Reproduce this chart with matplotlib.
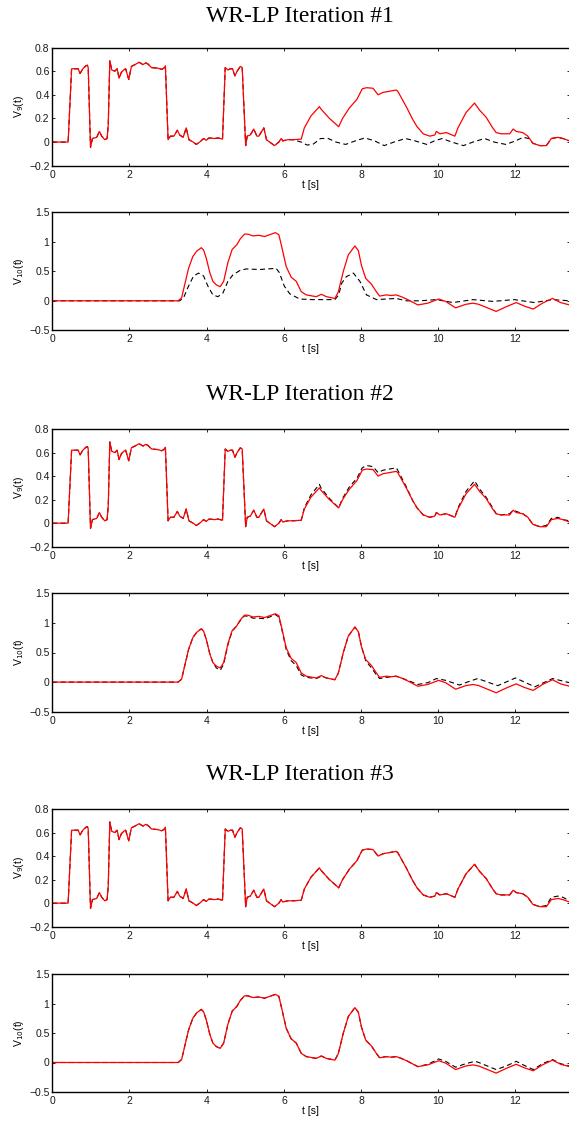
import matplotlib
matplotlib.use("Agg")
import matplotlib.pyplot as plt
from matplotlib.ticker import FuncFormatter

# --- V9(t): true response (red) ---
v9_t = [0, 0.41, 0.50, 0.58, 0.67, 0.72, 0.79, 0.87, 0.91, 0.93, 0.99, 1.04, 1.15, 1.22,
        1.28, 1.36, 1.42, 1.45, 1.49, 1.54, 1.62, 1.68, 1.73, 1.79, 1.85, 1.90, 1.98, 2.05,
        2.14, 2.25, 2.35, 2.42, 2.48, 2.57, 2.74, 2.83, 2.89, 2.93, 3.00, 3.06, 3.15, 3.24,
        3.30, 3.39, 3.47, 3.54, 3.65, 3.73, 3.82, 3.92, 3.99, 4.06, 4.21, 4.29, 4.41, 4.48,
        4.55, 4.61, 4.67, 4.73, 4.79, 4.87, 4.92, 5.01, 5.05, 5.13, 5.22, 5.30, 5.35, 5.48,
        5.55, 5.63, 5.76, 5.87, 5.93, 5.97, 6.10, 6.23, 6.45, 6.53, 6.70, 6.92, 6.96, 7.18,
        7.42, 7.52, 7.70, 7.89, 8.03, 8.14, 8.31, 8.44, 8.57, 8.74, 8.91, 8.95, 9.17, 9.34,
        9.45, 9.61, 9.78, 9.91, 9.95, 10.04, 10.21, 10.43, 10.51, 10.72, 10.94, 11.07, 11.24,
        11.41, 11.50, 11.63, 11.85, 11.94, 12.02, 12.19, 12.32, 12.45, 12.63, 12.80, 12.93,
        13.10, 13.23, 13.40]
v9_true = [0, 0, 0.62, 0.62, 0.62, 0.58, 0.62, 0.645, 0.65, 0.63, -0.045, 0.03, 0.04, 0.09,
           0.05, 0.02, 0.03, 0.15, 0.69, 0.61, 0.60, 0.62, 0.54, 0.59, 0.61, 0.62, 0.53, 0.64,
           0.655, 0.675, 0.655, 0.67, 0.66, 0.63, 0.625, 0.615, 0.625, 0.645, 0.02, 0.05, 0.05, 0.10,
           0.06, 0.04, 0.12, 0.02, 0.0, -0.02, 0.0, 0.03, 0.015, 0.035, 0.03, 0.035, 0.025, 0.63,
           0.61, 0.62, 0.62, 0.56, 0.60, 0.64, 0.63, -0.03, 0.05, 0.06, 0.11, 0.05, 0.05, 0.12,
           0.02, 0.0, -0.03, 0.0, 0.03, 0.01, 0.02, 0.02, 0.025, 0.12, 0.22, 0.30, 0.28, 0.20,
           0.13, 0.20, 0.29, 0.36, 0.45, 0.46, 0.455, 0.40, 0.42, 0.43, 0.44, 0.43, 0.30, 0.19,
           0.13, 0.07, 0.05, 0.06, 0.09, 0.07, 0.08, 0.05, 0.12, 0.25, 0.33, 0.27, 0.21,
           0.12, 0.08, 0.07, 0.07, 0.11, 0.09, 0.08, 0.05, -0.01, -0.03, -0.03, 0.03,
           0.04, 0.03, 0.01]

# --- V9 iterates (black dashed), only the part where they leave the red curve ---
v9_it1_t = [6.45, 6.60, 6.75, 6.95, 7.15, 7.35, 7.60, 7.85, 8.10, 8.35, 8.60, 8.85, 9.15,
            9.40, 9.70, 9.90, 10.10, 10.35, 10.65, 10.90, 11.20, 11.45, 11.75, 12.00, 12.20,
            12.35, 12.45, 12.63, 12.80, 12.93, 13.10, 13.23, 13.40]
v9_it1 = [0.0, -0.025, -0.02, 0.03, 0.03, 0.0, -0.02, 0.01, 0.035, 0.01, -0.03, 0.0, 0.03,
          0.01, -0.02, 0.01, 0.03, 0.0, -0.03, 0.0, 0.03, 0.0, -0.02, 0.01, 0.04,
          0.03, -0.01, -0.03, -0.03, 0.03, 0.04, 0.03, 0.01]

v9_it2_t = [6.45, 6.53, 6.70, 6.92, 6.96, 7.18, 7.42, 7.52, 7.70, 7.89, 8.03, 8.14, 8.31,
            8.44, 8.57, 8.74, 8.91, 8.95, 9.17, 9.34, 9.45, 9.61, 9.78, 9.91, 9.95, 10.04,
            10.21, 10.43, 10.51, 10.72, 10.94, 11.07, 11.24, 11.41, 11.50, 11.63, 11.85, 11.94,
            12.02, 12.19, 12.32, 12.45, 12.63, 12.80, 12.93, 13.10, 13.23, 13.40]
v9_it2 = [0.025, 0.13, 0.24, 0.33, 0.30, 0.21, 0.13, 0.21, 0.31, 0.38, 0.47, 0.49, 0.48,
          0.43, 0.45, 0.46, 0.47, 0.45, 0.31, 0.19, 0.13, 0.07, 0.05, 0.06, 0.09, 0.07,
          0.08, 0.05, 0.13, 0.27, 0.36, 0.29, 0.22, 0.13, 0.08, 0.07, 0.08, 0.11,
          0.10, 0.08, 0.05, -0.01, -0.03, -0.02, 0.04, 0.05, 0.03, 0.02]

v9_it3_t = [12.63, 12.80, 12.93, 13.10, 13.23, 13.40]
v9_it3 = [-0.03, -0.02, 0.05, 0.06, 0.05, 0.02]

# --- V10(t): true response (red) ---
v10_t = [0, 3.26, 3.35, 3.44, 3.53, 3.64, 3.74, 3.86, 3.92, 3.99, 4.08, 4.16, 4.25, 4.35,
         4.44, 4.55, 4.66, 4.78, 4.87, 4.98, 5.07, 5.20, 5.35, 5.50, 5.63, 5.78, 5.87, 5.95,
         6.06, 6.19, 6.32, 6.45, 6.58, 6.84, 6.97, 7.10, 7.32, 7.41, 7.54, 7.67, 7.84, 7.93,
         8.01, 8.12, 8.27, 8.40, 8.48, 8.65, 8.78, 8.91, 9.04, 9.21, 9.47, 9.73, 10.01, 10.19,
         10.45, 10.71, 10.90, 11.05, 11.50, 11.76, 12.02, 12.23, 12.46, 12.70, 12.96, 13.17,
         13.40]
v10_true = [0, 0, 0.05, 0.30, 0.55, 0.75, 0.84, 0.90, 0.86, 0.72, 0.48, 0.33, 0.27, 0.24,
            0.33, 0.65, 0.87, 0.95, 1.05, 1.13, 1.13, 1.10, 1.11, 1.09, 1.12, 1.155, 1.12, 0.90,
            0.58, 0.40, 0.33, 0.155, 0.10, 0.07, 0.11, 0.07, 0.04, 0.15, 0.50, 0.78, 0.93, 0.85,
            0.60, 0.38, 0.28, 0.15, 0.08, 0.10, 0.09, 0.10, 0.07, 0.02, -0.07, -0.04, 0.03, -0.01,
            -0.12, -0.06, -0.04, -0.06, -0.18, -0.10, -0.03, -0.09, -0.14, -0.04, 0.04, -0.03,
            -0.07]

# --- V10 iterates (black dashed) ---
v10_it1_t = [0, 3.30, 3.40, 3.53, 3.66, 3.79, 3.92, 4.03, 4.16, 4.29, 4.42, 4.55, 4.68,
             4.85, 5.02, 5.37, 5.80, 5.88, 6.01, 6.15, 6.41, 6.75, 7.32, 7.42, 7.50, 7.62,
             7.80, 7.97, 8.14, 8.40, 8.91, 9.17, 9.52, 9.95, 10.38, 10.90, 11.41, 11.97,
             12.49, 12.96, 13.40]
v10_it1 = [0, 0, 0.05, 0.25, 0.42, 0.47, 0.42, 0.25, 0.10, 0.07, 0.13, 0.33, 0.44,
           0.51, 0.54, 0.53, 0.55, 0.48, 0.25, 0.12, 0.03, 0.02, 0.02, 0.10, 0.30, 0.41,
           0.47, 0.33, 0.10, 0.02, 0.04, 0.0, 0.0, 0.02, -0.03, 0.02, -0.01, 0.02,
           -0.03, 0.02, 0.0]

v10_it2_t = [4.16, 4.25, 4.35, 4.44, 4.55, 4.66, 4.78, 4.87, 4.98, 5.07, 5.20, 5.35, 5.50,
             5.63, 5.78, 5.87, 5.95, 6.06, 6.19, 6.32, 6.45, 6.58, 6.84, 6.97, 7.10, 7.32,
             7.41, 7.54, 7.67, 7.84, 7.93, 8.01, 8.12, 8.27, 8.40, 8.48, 8.65, 8.78, 8.91,
             9.04, 9.21, 9.47, 9.73, 9.95, 10.19, 10.55, 10.75, 11.02, 11.54, 12.00, 12.50,
             12.96, 13.40]
v10_it2 = [0.33, 0.24, 0.20, 0.30, 0.63, 0.86, 0.95, 1.04, 1.12, 1.11, 1.08, 1.08, 1.07,
           1.10, 1.14, 1.10, 0.88, 0.55, 0.36, 0.28, 0.12, 0.08, 0.06, 0.10, 0.07, 0.04,
           0.15, 0.50, 0.78, 0.93, 0.85, 0.60, 0.36, 0.24, 0.12, 0.06, 0.08, 0.09, 0.10,
           0.07, 0.03, -0.04, -0.01, 0.06, 0.03, -0.05, 0.0, 0.06, -0.06, 0.07, -0.08,
           0.06, -0.01]

v10_it3_t = [9.47, 9.73, 10.01, 10.19, 10.45, 10.71, 10.95, 11.05, 11.50, 11.76, 12.02,
             12.23, 12.46, 12.70, 12.96, 13.17, 13.40]
v10_it3 = [-0.07, -0.03, 0.06, 0.02, -0.08, -0.02, 0.02, 0.0, -0.12, -0.06, 0.02,
           -0.05, -0.12, -0.02, 0.05, -0.02, -0.06]


def merge(t_true, y_true, t_it, y_it):
    # iterate equals the true curve outside the span where it was read separately
    lo, hi = t_it[0], t_it[-1]
    pts = [(a, b) for a, b in zip(t_true, y_true) if a < lo or a > hi]
    pts += list(zip(t_it, y_it))
    pts.sort()
    return [p[0] for p in pts], [p[1] for p in pts]


titles = ["WR-LP Iteration #1", "WR-LP Iteration #2", "WR-LP Iteration #3"]
v9_iters = [(v9_it1_t, v9_it1), (v9_it2_t, v9_it2), (v9_it3_t, v9_it3)]
v10_iters = [(v10_it1_t, v10_it1), (v10_it2_t, v10_it2), (v10_it3_t, v10_it3)]

W, H = 569, 1121
fig = plt.figure(figsize=(W / 100, H / 100), dpi=100)
plt.rcParams['font.family'] = ['Liberation Sans', 'DejaVu Sans']


def fmt(v, pos):
    return ('%g' % v).replace('-', '\u2212')


# pixel boxes (top, bottom) for each panel
boxes = [(47.5, 165.7), (212.3, 330.3), (429.0, 546.7),
         (593.3, 711.7), (809.0, 926.7), (974.0, 1092.0)]
title_y = [16, 394, 774]
left, right = 52.3, 569.5

for g in range(3):
    fig.text(300 / W, 1 - title_y[g] / H, titles[g], ha='center', va='center',
             fontsize=17, family='Liberation Serif')
    for k in range(2):
        top, bot = boxes[2 * g + k]
        ax = fig.add_axes([left / W, 1 - bot / H, (right - left) / W, (bot - top) / H])
        if k == 0:
            tt, yt = v9_t, v9_true
            it_t, it_y = merge(v9_t, v9_true, *v9_iters[g])
            ax.set_ylim(-0.2, 0.8)
            ax.set_yticks([-0.2, 0, 0.2, 0.4, 0.6, 0.8])
            ax.set_ylabel('V$_9$(t)', fontsize=7.5, labelpad=2)
        else:
            tt, yt = v10_t, v10_true
            it_t, it_y = merge(v10_t, v10_true, *v10_iters[g])
            ax.set_ylim(-0.5, 1.5)
            ax.set_yticks([-0.5, 0, 0.5, 1, 1.5])
            ax.set_ylabel('V$_{10}$(t)', fontsize=7.5, labelpad=2)
        ax.plot(it_t, it_y, color='black', lw=0.8, dashes=(4.5, 3))
        ax.plot(tt, yt, color='#ff0000', lw=0.9)
        ax.set_xlim(0, 13.4)
        ax.set_xticks([0, 2, 4, 6, 8, 10, 12])
        ax.xaxis.set_major_formatter(FuncFormatter(fmt))
        ax.yaxis.set_major_formatter(FuncFormatter(fmt))
        ax.tick_params(direction='in', top=True, right=True, length=2.5, width=0.6,
                       labelsize=7.5, pad=2, colors='black', labelcolor='#1a1a1a')
        ax.tick_params(axis='x', pad=3)
        ax.set_xlabel('t [s]', fontsize=7.5, labelpad=0)
        for s in ax.spines.values():
            s.set_linewidth(1.0)

fig.savefig('out.png', dpi=100)
